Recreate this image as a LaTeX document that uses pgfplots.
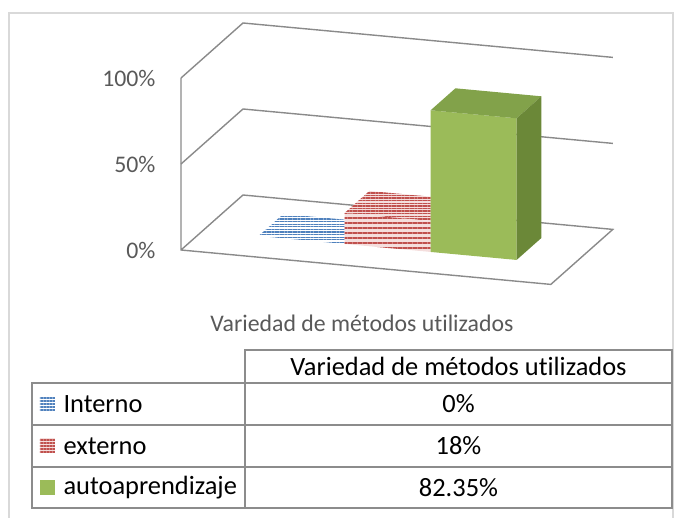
\documentclass[border=0pt]{standalone}
\usepackage{pgfplots}
\pgfplotsset{compat=1.18}
\usepackage{fontspec}
\setmainfont{Carlito}[Ligatures={NoCommon}]
\usetikzlibrary{patterns.meta}
\definecolor{gridc}{HTML}{8A8A8A}
\definecolor{txtc}{HTML}{595959}
\definecolor{bblue}{HTML}{4F81BD}
\definecolor{bred}{HTML}{C0504D}
\definecolor{pinkbg}{HTML}{F4DEDD}
\definecolor{gfront}{HTML}{9BBB59}
\definecolor{gtop}{HTML}{82A24A}
\definecolor{gside}{HTML}{6B8838}
\definecolor{tabline}{HTML}{8C8C8C}
\definecolor{framec}{HTML}{D9D9D9}
\begin{document}
\begin{tikzpicture}[x=1bp,y=1bp]
\begin{pgfinterruptboundingbox}
\begin{axis}[
  x={(86bp,-8bp)}, y={(62bp,55bp)}, z={(0bp,172bp)},
  xmin=0,xmax=4.3,ymin=0,ymax=1,zmin=0,zmax=1,
  hide axis, clip=false, no marks,
]
% walls and floor
\addplot3[gridc, line width=1.4bp] coordinates {(0,0,1) (0,0,0) (4.3,0,0) (4.3,1,0) (0,1,0) (0,0,0)};
\addplot3[gridc, line width=1.4bp] coordinates {(0,0,0.5) (0,1,0.5) (4.3,1,0.5)};
\addplot3[gridc, line width=1.4bp] coordinates {(0,0,1) (0,1,1) (4.3,1,1)};
% Interno = 0
\addplot3[draw=none, preaction={fill=white}, pattern={Lines[angle=0,distance=2.6bp,line width=1.3bp]}, pattern color=bblue]
  coordinates {(0.65,0.35,0) (1.65,0.35,0) (1.65,0.75,0) (0.65,0.75,0)};
% externo = 0.18
\addplot3[draw=none, preaction={fill=pinkbg}, pattern={Lines[angle=0,distance=2.6bp,line width=1.4bp]}, pattern color=bred]
  coordinates {(1.65,0.35,0.18) (2.65,0.35,0.18) (2.65,0.75,0.18) (1.65,0.75,0.18)};
\addplot3[draw=none, preaction={fill=pinkbg}, pattern={Lines[angle=0,distance=5bp,line width=2.5bp]}, pattern color=bred]
  coordinates {(1.65,0.35,0) (2.65,0.35,0) (2.65,0.35,0.18) (1.65,0.35,0.18)};
% autoaprendizaje = 0.8235
\addplot3[draw=none, fill=gfront] coordinates {(2.65,0.35,0) (3.65,0.35,0) (3.65,0.35,0.8235) (2.65,0.35,0.8235)};
\addplot3[draw=none, fill=gtop] coordinates {(2.65,0.35,0.8235) (3.65,0.35,0.8235) (3.65,0.75,0.8235) (2.65,0.75,0.8235)};
\addplot3[draw=none, fill=gside] coordinates {(3.65,0.35,0) (3.65,0.75,0) (3.65,0.75,0.8235) (3.65,0.35,0.8235)};
% tick labels
\node[anchor=east, text=txtc, font=\fontsize{23.8bp}{28bp}\selectfont, xshift=-22bp] at (axis cs:0,0,1) {100\%};
\node[anchor=east, text=txtc, font=\fontsize{23.8bp}{28bp}\selectfont, xshift=-22bp] at (axis cs:0,0,0.5) {50\%};
\node[anchor=east, text=txtc, font=\fontsize{23.8bp}{28bp}\selectfont, xshift=-22bp] at (axis cs:0,0,0) {0\%};
\coordinate (O) at (axis cs:0,0,0);
\end{axis}
\end{pgfinterruptboundingbox}
\begin{scope}[shift={(O)}, shift={(-181,250)}]
\useasboundingbox (0,0) rectangle (674,-518);
\draw[line width=1.5bp, draw=framec] (9,-520) -- (9,-13) -- (673,-13) -- (673,-520);
\node[text=txtc, font=\fontsize{23.8bp}{28bp}\selectfont] at (362,-323) {Variedad de métodos utilizados};
% data table
\draw[tabline, line width=1.8bp] (245,-350) rectangle (672,-383);
\draw[tabline, line width=1.8bp] (32,-383) rectangle (672,-508);
\draw[tabline, line width=1.8bp] (32,-425) -- (672,-425);
\draw[tabline, line width=1.8bp] (32,-467) -- (672,-467);
\draw[tabline, line width=1.8bp] (245,-383) -- (245,-508);
\begin{scope}[font=\fontsize{26.4bp}{30bp}\selectfont]
\node at (458.5,-366.5) {Variedad de métodos utilizados};
\node at (458.5,-404) {0\%};
\node at (458.5,-446) {18\%};
\node at (458.5,-487.5) {82.35\%};
\node[anchor=west] at (60,-404) {Interno};
\node[anchor=west] at (60,-446) {externo};
\node[anchor=west] at (60,-487.5) {autoaprendizaje};
\end{scope}
\fill[white] (40,-396.5) rectangle (55,-411.5);
\fill[pattern={Lines[angle=0,distance=3bp,line width=1.6bp]}, pattern color=bblue] (40,-396.5) rectangle (55,-411.5);
\fill[pinkbg] (40,-438.5) rectangle (55,-453.5);
\fill[pattern={Lines[angle=0,distance=3bp,line width=1.6bp]}, pattern color=bred] (40,-438.5) rectangle (55,-453.5);
\fill[gfront] (40,-480) rectangle (55,-495);
\end{scope}
\end{tikzpicture}
\end{document}
